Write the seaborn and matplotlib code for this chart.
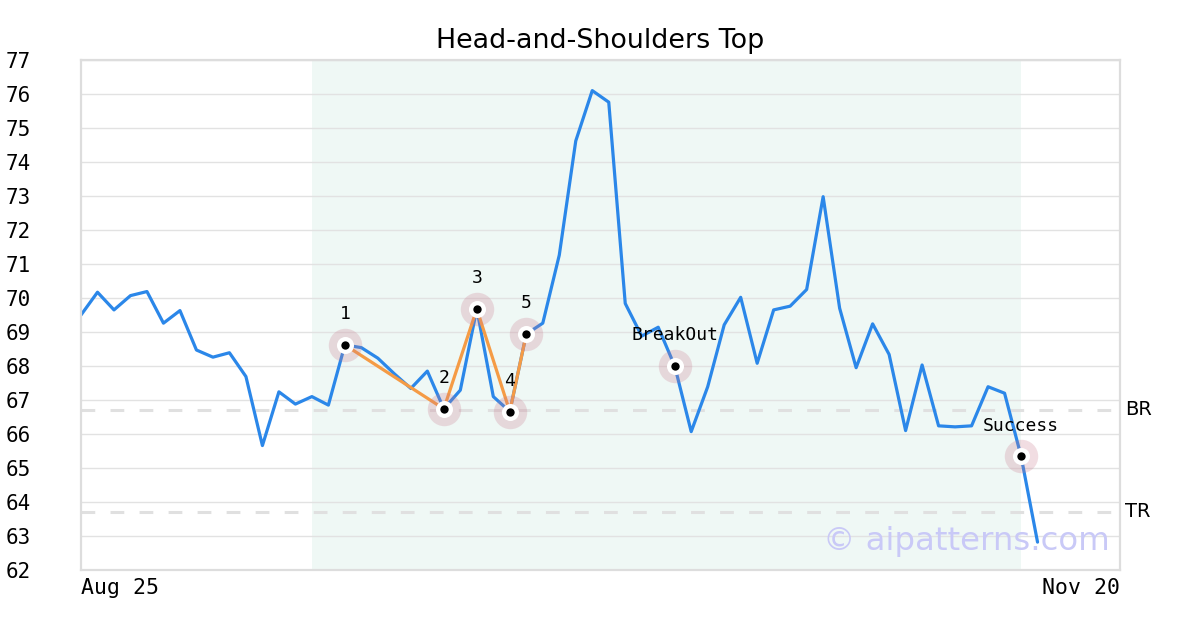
import numpy as np
import pandas as pd
import matplotlib
matplotlib.use("Agg")
import matplotlib.pyplot as plt
import seaborn as sns

# ---- data ----
prices = [69.50, 70.17, 69.65, 70.07, 70.19, 69.26, 69.63, 68.47, 68.26, 68.39,
          67.69, 65.66, 67.24, 66.88, 67.10, 66.85, 68.62, 68.54, 68.23, 67.77,
          67.34, 67.85, 66.74, 67.29, 69.68, 67.10, 66.66, 68.94, 69.26, 71.26,
          74.62, 76.10, 75.76, 69.84, 68.88, 69.14, 68.00, 66.07, 67.39, 69.21,
          70.02, 68.08, 69.65, 69.76, 70.25, 72.98, 69.70, 67.95, 69.24, 68.34,
          66.10, 68.03, 66.24, 66.21, 66.24, 67.39, 67.20, 65.35, 62.82]
pattern_idx = [16, 22, 24, 26, 27]
pattern_labels = ["1", "2", "3", "4", "5"]
event_idx = [36, 57]
event_labels = ["BreakOut", "Success"]
br_level = 66.71
tr_level = 63.71
shade_range = [14, 57]
axis_end_idx = 63
x_tick_pos = [0, 63]
x_tick_labels = ["Aug 25", "Nov 20"]
y_ticks = list(range(62, 78))

df = pd.DataFrame({"i": np.arange(len(prices)), "price": prices})
pat = pd.DataFrame({"i": pattern_idx, "price": [prices[k] for k in pattern_idx]})
ev = pd.DataFrame({"i": event_idx, "price": [prices[k] for k in event_idx]})
marks = pd.concat([pat, ev], ignore_index=True)

sns.set_theme(style="white")
plt.rcParams["font.family"] = ["DejaVu Sans"]
plt.rcParams["text.color"] = "black"
plt.rcParams["xtick.color"] = "black"
plt.rcParams["ytick.color"] = "black"
MONO = "DejaVu Sans Mono"

fig = plt.figure(figsize=(12, 6.3), dpi=100)
ax = fig.add_axes([81 / 1200, 1 - 570 / 630, (1120 - 81) / 1200, (570 - 60) / 630])

ax.axvspan(shade_range[0], shade_range[1], color="#eff8f5", zorder=0, lw=0)
for v in y_ticks:
    ax.axhline(v, color="#e2e2e2", lw=1, zorder=0.5)
for lvl in (br_level, tr_level):
    ax.axhline(lvl, color="#e0e0e0", lw=2.2, ls=(0, (4.5, 5)), zorder=1)

ax.text(0.990, 0.055, "\u00a9 aipatterns.com", transform=ax.transAxes, ha="right",
        va="center", fontsize=23.3, color="#c9c9f7", zorder=1.5)

sns.lineplot(data=df, x="i", y="price", ax=ax, color="#2b87e9", lw=2.3, zorder=2)
sns.lineplot(data=pat, x="i", y="price", ax=ax, color="#f59b45", lw=2.3, zorder=3,
             sort=False)

sns.scatterplot(data=marks, x="i", y="price", ax=ax, s=580, color="#c8788c",
                alpha=0.25, linewidth=0, zorder=4)
sns.scatterplot(data=marks, x="i", y="price", ax=ax, s=150, color="white",
                linewidth=0, zorder=5)
sns.scatterplot(data=marks, x="i", y="price", ax=ax, s=36, color="black",
                linewidth=0, zorder=6)

for k, lab in zip(pattern_idx, pattern_labels):
    ax.annotate(lab, (k, prices[k]), xytext=(0, 22), textcoords="offset points",
                ha="center", va="center", fontsize=13, family=MONO, zorder=7)
for k, lab in zip(event_idx, event_labels):
    ax.annotate(lab, (k, prices[k]), xytext=(0, 22), textcoords="offset points",
                ha="center", va="center", fontsize=13, family=MONO, zorder=7)

ax.text(1.0048, br_level, "BR", transform=ax.get_yaxis_transform(), ha="left",
        va="center", fontsize=14, clip_on=False)
ax.text(1.0048, tr_level, "TR", transform=ax.get_yaxis_transform(), ha="left",
        va="center", fontsize=14, clip_on=False)

ax.set_xlim(0, axis_end_idx)
ax.set_ylim(62, 77)
ax.set_yticks(y_ticks)
ax.set_yticklabels([str(v) for v in y_ticks], family=MONO, fontsize=15)
ax.set_xticks(x_tick_pos)
xl = ax.set_xticklabels(x_tick_labels, family=MONO, fontsize=15.5)
xl[0].set_ha("left")
xl[1].set_ha("right")
ax.tick_params(axis="y", length=0, pad=36)
ax.tick_params(axis="x", length=0, pad=6)
ax.set_xlabel("")
ax.set_ylabel("")
for s in ax.spines.values():
    s.set_color("#dddddd")
    s.set_linewidth(1.6)
ax.set_title("Head-and-Shoulders Top", fontsize=19.4, pad=9)

fig.savefig("out.png", dpi=100)
